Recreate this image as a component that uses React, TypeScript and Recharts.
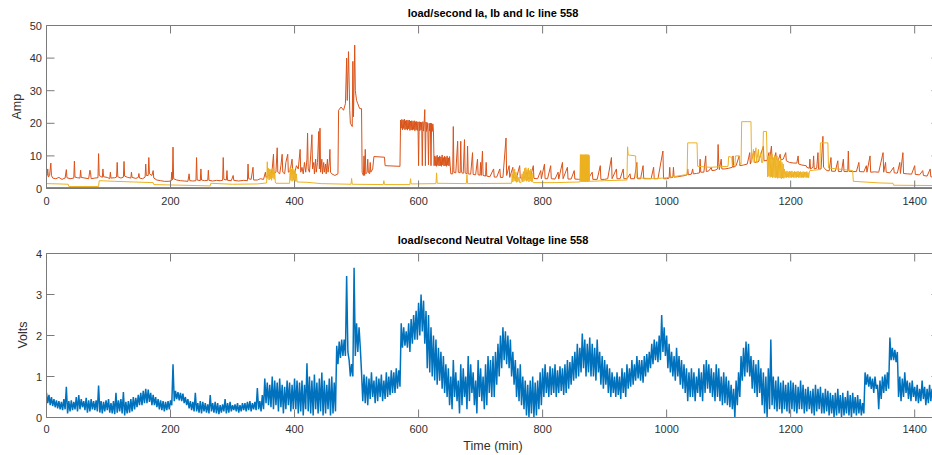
import { LineChart, Line, XAxis, YAxis } from 'recharts'

const X_TICKS = [0, 200, 400, 600, 800, 1000, 1200, 1400]
const AMP_TICKS = [0, 10, 20, 30, 40, 50]
const VOLT_TICKS = [0, 1, 2, 3, 4]

// phase currents, [minute, amp]
const IA: [number, number][] = [[0, 0.25], [360, 0.25], [720, 0.25], [1080, 0.25], [1440, 0.25]]

const IB: [number, number][] = [
  [0, 5], [1, 4], [2, 6], [3, 3.5], [5, 4], [7, 7.8], [8, 4], [10, 3.2], [15, 3], [20, 3.4], [25, 2.8], [30, 3.2], [32, 5.8], [33, 3.3],
  [38, 3], [44, 3.2], [45, 8.4], [46, 3.5], [50, 3.3], [54, 3.2], [55, 5.6], [56, 3.4], [62, 3.2], [68, 3], [70, 5.6], [71, 5], [72, 3],
  [78, 3.2], [83, 3.3], [84, 10.7], [85, 4], [90, 3.4], [91, 6], [92, 3.6], [98, 3.4], [102, 3], [103, 5], [104, 3.2], [110, 3.3],
  [113, 3.5], [114, 8], [115, 3.6], [120, 3.2], [124, 3.5], [125, 8.3], [126, 3.8], [131, 3.4], [136, 3.2], [137, 5], [138, 3.4],
  [144, 3.1], [148, 3.4], [149, 4.6], [150, 3.2], [155, 3], [159, 3.5], [160, 7.5], [161, 4], [164, 4], [165, 9.5], [166, 4.5], [170, 4],
  [172, 5.5], [173, 3.2], [178, 2.6], [184, 2.4], [190, 2.2], [196, 2.2], [201, 2.3], [202, 5], [203, 2.6], [204, 12.7], [205, 3],
  [210, 2.6], [216, 2.4], [222, 2.3], [228, 2.2], [230, 4.5], [231, 2.4], [236, 2.3], [241, 2.4], [242, 9.5], [243, 2.6], [248, 2.4],
  [249, 6], [250, 2.6], [255, 2.4], [260, 2.5], [261, 5.6], [262, 2.5], [268, 2.3], [274, 2.5], [280, 2.4], [284, 2.5], [285, 9.5],
  [286, 2.8], [290, 2.6], [291, 5.5], [292, 2.5], [298, 2.4], [301, 4], [302, 2.5], [310, 2.3], [318, 2.5], [324, 2.4], [325, 7.5],
  [326, 3], [330, 2.8], [333, 6.5], [334, 2.6], [340, 2.6], [345, 3], [350, 2.8], [353, 5], [354, 3.4], [358, 4], [361, 3.8], [364, 6],
  [366, 10.5], [367, 4.5], [370, 5], [372, 12.5], [373, 5], [376, 4.5], [378, 7], [380, 10.5], [381, 5], [384, 4.5], [386, 8],
  [389, 10.5], [390, 5], [393, 5.5], [396, 9], [397, 5], [400, 4.5], [403, 7], [406, 6], [409, 12], [410, 5], [412, 6.5], [414, 4.5],
  [416, 8], [418, 5], [420, 9], [421, 17], [422, 6], [424, 5], [426, 10], [428, 16.5], [429, 6], [431, 8], [432, 4.5], [434, 9],
  [435, 5], [437, 8], [439, 17.5], [440, 6], [441, 18.5], [442, 5], [444, 9], [445, 4.5], [447, 8], [448, 5], [450, 7.5], [451, 4.5],
  [453, 9], [454, 5], [456, 8], [457, 12], [458, 5], [460, 4.5], [465, 4], [470, 4.5], [471, 24], [475, 25], [479, 24], [482, 26],
  [484, 40], [485, 27], [487, 42], [489, 24], [490, 20], [493, 19], [494, 39], [495, 22], [497, 44], [498, 30], [500, 27], [502, 26],
  [505, 24.5], [508, 24.5], [509, 5], [511, 4], [512, 10], [513, 4], [514, 12], [515, 4.5], [517, 5], [518, 9], [519, 5], [521, 4.5],
  [522, 8], [523, 5], [526, 6], [528, 9.8], [545, 9.6], [546, 7], [570, 6.8],
  [571, 21], [572, 18.5], [573, 21.2], [574, 18], [575, 21], [576, 18.4], [577, 21.3], [578, 18], [579, 20.8], [580, 18.2], [581, 21],
  [582, 17.9], [583, 20.9], [584, 18.3], [585, 21], [586, 17.8], [587, 20.7], [588, 18], [589, 20.8], [590, 17.9], [591, 20.6],
  [592, 18.1], [593, 20.8], [594, 17.7], [595, 20.5], [596, 18], [597, 20.6], [598, 17.8], [599, 20.4], [600, 7], [601, 20.5],
  [602, 17.7], [603, 20.4], [604, 18], [605, 20.3], [606, 7], [607, 20.5], [608, 17.6], [609, 20.2], [610, 24.2], [611, 7], [612, 20.4],
  [613, 17.5], [614, 20.2], [615, 17.8], [616, 7.2], [617, 20], [618, 17.6], [619, 20.1], [620, 7], [621, 20], [622, 17.5], [623, 19.8],
  [624, 17.7], [625, 7],
  [626, 10], [627, 7], [628, 9.8], [629, 6.8], [630, 10.2], [631, 7.1], [632, 9.6], [633, 6.9], [634, 10], [635, 7], [636, 9.7],
  [637, 6.8], [638, 10.3], [639, 7.2], [640, 9.5], [641, 6.9], [642, 9.9], [643, 7], [644, 9.6], [645, 6.8], [646, 10], [647, 7.1],
  [648, 9.4], [649, 6.9], [650, 9.8], [651, 7], [652, 4.5], [655, 4.5], [656, 19], [657, 5], [660, 4.8], [663, 14.5], [664, 5],
  [667, 4.8], [668, 14.5], [669, 5], [672, 4.6], [674, 15], [675, 4.8], [678, 4.5], [679, 13], [680, 4.5], [684, 4.4], [687, 11],
  [688, 4.3], [692, 4.2], [695, 9], [696, 4.2], [699, 4.1], [700, 8], [701, 4], [703, 11.5], [704, 4], [708, 3.8], [709, 8], [710, 3.8],
  [715, 3.6], [721, 6], [722, 3.5], [726, 3.5], [731, 6], [732, 3.4], [736, 3.4], [741, 15.5], [742, 4], [746, 7], [747, 3.4],
  [752, 6.5], [753, 3.3], [758, 3.3], [763, 7], [764, 3.2], [770, 3.2], [775, 5], [776, 3.2], [780, 3.1], [785, 7], [786, 3.1], [792, 3],
  [797, 5.5], [798, 3], [803, 7.5], [804, 3], [808, 3], [813, 7], [814, 3], [820, 2.9], [825, 5], [826, 2.9], [832, 8], [833, 3],
  [840, 6.5], [841, 2.9], [846, 2.9], [851, 5.5], [852, 2.9], [858, 2.8], [866, 2.8], [872, 5], [873, 2.8], [880, 5], [881, 2.8],
  [888, 2.8], [893, 7], [894, 2.8], [900, 2.8], [905, 3], [911, 9.5], [912, 3], [919, 6], [920, 3], [925, 3], [930, 6], [931, 3],
  [936, 3], [941, 4.5], [942, 3], [948, 3], [952, 8], [953, 3], [958, 3], [962, 7], [963, 3], [968, 3], [975, 3], [979, 6.5], [980, 3],
  [986, 3], [994, 11.5], [995, 3], [1000, 3], [1004, 3.2], [1005, 6.5], [1006, 3.3], [1010, 3.4], [1011, 6.5], [1012, 3.5], [1018, 3.6],
  [1024, 3.8], [1030, 4], [1033, 4.2], [1034, 6], [1035, 4.2], [1040, 4.4], [1042, 6], [1043, 4.5], [1048, 4.6], [1053, 4.8], [1054, 9],
  [1055, 5], [1060, 5], [1063, 10], [1064, 5.2], [1068, 5.4], [1072, 6.5], [1073, 5.5], [1078, 5.6], [1082, 6], [1083, 13.5],
  [1084, 8], [1085, 5.8], [1088, 9], [1089, 6], [1094, 6], [1100, 6.2], [1106, 6.5], [1107, 10], [1108, 6.5], [1112, 7], [1117, 10],
  [1118, 7], [1124, 7.2], [1130, 7.5], [1134, 11], [1135, 7.5], [1141, 11.5], [1142, 8], [1148, 8.2], [1156, 13], [1157, 8.5],
  [1162, 8.6], [1165, 11], [1166, 8.8], [1169, 13], [1170, 9], [1174, 9.4], [1176, 11], [1177, 9], [1180, 8.6], [1183, 10.5],
  [1184, 8.8], [1188, 9], [1192, 11], [1193, 8.5], [1198, 8], [1205, 7.8], [1210, 7.8], [1212, 10], [1213, 7.5], [1218, 7.2], [1225, 7],
  [1226, 6.5], [1230, 6.2], [1231, 9], [1232, 6], [1236, 6.5], [1237, 10], [1238, 6], [1242, 6.2], [1244, 11], [1245, 6], [1249, 6],
  [1252, 16], [1253, 6.5], [1256, 6], [1258, 5.5], [1262, 5.4], [1265, 9.5], [1266, 5.3], [1272, 5.3], [1276, 8.5], [1277, 5.2],
  [1282, 5.2], [1285, 9], [1286, 5.2], [1292, 5.2], [1293, 11.5], [1294, 5.3], [1300, 5.2], [1306, 5.2], [1310, 8], [1311, 5.2],
  [1318, 5.1], [1322, 7], [1323, 5], [1328, 10], [1329, 5], [1335, 5.1], [1342, 5], [1349, 11], [1350, 5], [1353, 8], [1354, 5],
  [1360, 4.8], [1366, 6.5], [1367, 4.8], [1372, 4.7], [1376, 8], [1377, 4.6], [1381, 11], [1382, 4.6], [1388, 4.5], [1395, 4.4],
  [1400, 7], [1401, 4.3], [1408, 4.2], [1413, 5.5], [1414, 4], [1420, 3.8], [1425, 6], [1426, 3.6], [1432, 3.4], [1440, 3.2],
]

const IC: [number, number][] = [
  [0, 1.5], [20, 1.4], [35, 1.3], [36, 0.6], [84, 0.6], [85, 2.4], [110, 2.2], [140, 2], [172, 1.8], [173, 1.2], [220, 1], [264, 0.8],
  [265, 1.6], [300, 1.3], [340, 1.4], [355, 1.7],
  [356, 8.2], [357, 3], [358, 6.2], [359, 2.6], [360, 6], [361, 3], [362, 5.8], [363, 2.5], [364, 6.1], [365, 3.2], [366, 5.6],
  [367, 2.8], [368, 5.2], [369, 2], [370, 1.6], [392, 1.6],
  [393, 6.4], [394, 2.5], [395, 6], [396, 2.2], [397, 6.2], [398, 2.5], [399, 5.8], [400, 2], [401, 5.5], [402, 2.2], [403, 4.5],
  [404, 2], [420, 1.9], [443, 1.5], [491, 1.3], [492, 3.1], [493, 1.3], [543, 1.2], [544, 2.4], [545, 1.2], [586, 1.2], [587, 3],
  [588, 1.4], [628, 1.5], [629, 4.8], [630, 1.6], [677, 1.5], [678, 4.3], [679, 1.5], [750, 1.6],
  [751, 4.5], [752, 2], [753, 5.5], [754, 2.4], [755, 6], [756, 2.2], [757, 5], [758, 1.9], [759, 4], [760, 2], [762, 3.5], [763, 1.8],
  [765, 1.8], [767, 4.5], [768, 2], [769, 5.2], [770, 2.2], [771, 6.2], [772, 2.5], [773, 6.4], [774, 2.2], [775, 5.8], [776, 2.4],
  [777, 6.3], [778, 2], [779, 5.5], [780, 2.3], [781, 6], [782, 2.1], [783, 4.8], [784, 2], [785, 1.8], [820, 1.8], [860, 2],
  [861, 10.4], [861.5, 2.1], [862, 10.3], [862.5, 2.2], [863, 10.4], [863.5, 2], [864, 10.3], [864.5, 2.2], [865, 10.4], [865.5, 2.1],
  [866, 10.3], [866.5, 2], [867, 10.4], [867.5, 2.2], [868, 10.3], [868.5, 2.1], [869, 10.4], [869.5, 2], [870, 10.3], [870.5, 2.2],
  [871, 10.4], [871.5, 2.1], [872, 10.3], [872.5, 2], [873, 10.4], [873.5, 2.2], [874, 10.3], [874.5, 2.1], [875, 10.2], [875.5, 2.2],
  [900, 2.4], [936, 2.6], [937, 12.8], [938, 10.3], [950, 10], [951, 3.3], [980, 3], [1000, 3.3], [1030, 4.2], [1033, 4.2], [1034, 14],
  [1049, 14], [1050, 6.8], [1070, 6.5], [1099, 6.8], [1100, 9.8], [1105, 9.6], [1106, 7], [1110, 7], [1111, 10], [1117, 10],
  [1118, 7.5], [1120, 7.5], [1121, 20.5], [1136, 20.5], [1137, 8], [1140, 12], [1141, 8], [1144, 12.5], [1145, 8], [1148, 12],
  [1149, 8.5], [1152, 11], [1153, 8], [1155, 8], [1156, 17.5], [1161, 17.5], [1162, 10],
  [1163, 3.5], [1164, 10], [1165, 3.8], [1166, 11], [1167, 3.4], [1168, 9.8], [1169, 3.6], [1170, 10.5], [1171, 3.3], [1172, 9.5],
  [1173, 3.5], [1174, 10.2], [1175, 3.2], [1176, 9.6], [1177, 3.4], [1178, 10], [1179, 3.1], [1180, 9], [1181, 3.3], [1182, 8.5],
  [1183, 3.2], [1184, 9.2], [1185, 3], [1186, 8], [1187, 3.2], [1188, 7.5], [1189, 3.1], [1190, 6],
  [1191, 3.4], [1192, 5.2], [1193, 3.3], [1194, 5.4], [1195, 3.5], [1196, 5.1], [1197, 3.3], [1198, 5.3], [1199, 3.4], [1200, 5.2],
  [1201, 3.3], [1202, 5.4], [1203, 3.5], [1204, 5], [1205, 3.3], [1206, 5.3], [1207, 3.4], [1208, 5.1], [1209, 3.3], [1210, 5.2],
  [1211, 3.5], [1212, 5.3], [1213, 3.3], [1214, 5.1], [1215, 3.4], [1216, 5.2], [1217, 3.3], [1218, 5], [1219, 3.4], [1220, 5.2],
  [1221, 3.3], [1222, 5.1], [1223, 3.5], [1224, 5], [1225, 3.3], [1226, 5.2], [1227, 3.4], [1228, 4.9], [1229, 3.3], [1230, 4.8],
  [1231, 5.5], [1247, 5.8], [1248, 14], [1260, 14], [1261, 6.3], [1300, 5.5], [1301, 2.2], [1344, 1.7], [1365, 1.6], [1366, 1],
  [1440, 0.9],
]

// neutral voltage, high and low reading in each 4-minute window (one row = 80 minutes)
const VN_STEP = 4
const VN_HI = [
  0.6, 0.55, 0.5, 0.45, 0.42, 0.4, 0.38, 0.45, 0.75, 0.4, 0.42, 0.38, 0.5, 0.55, 0.45, 0.4, 0.48, 0.42, 0.45, 0.4,
  0.42, 0.78, 0.4, 0.38, 0.42, 0.45, 0.35, 0.4, 0.6, 0.42, 0.45, 0.62, 0.38, 0.4, 0.45, 0.5, 0.48, 0.55, 0.6, 0.65,
  0.7, 0.68, 0.6, 0.55, 0.5, 0.45, 0.42, 0.4, 0.38, 0.4, 0.42, 1.3, 0.65, 0.62, 0.6, 0.58, 0.5, 0.45, 0.4, 0.38,
  0.6, 0.35, 0.4, 0.38, 0.35, 0.32, 0.55, 0.35, 0.38, 0.35, 0.3, 0.32, 0.45, 0.35, 0.38, 0.3, 0.32, 0.35, 0.3, 0.35,
  0.35, 0.38, 0.4, 0.35, 0.38, 0.72, 0.4, 0.55, 0.95, 0.85, 0.8, 1.0, 0.9, 0.85, 0.95, 0.8, 0.75, 0.9, 0.85, 0.8,
  0.95, 0.9, 0.85, 0.9, 0.8, 1.32, 1.0, 0.9, 1.05, 0.85, 0.95, 1.1, 0.9, 0.8, 0.95, 1.0, 0.85, 1.75, 1.85, 1.9,
  1.9, 3.45, 1.4, 1.3, 3.65, 2.3, 2.2, 1.1, 1.05, 1.0, 0.95, 1.1, 0.9, 1.0, 0.95, 1.05, 0.9, 1.1, 1.0, 1.15,
  1.1, 1.2, 1.15, 2.3, 2.2, 2.1, 2.3, 2.4, 2.5, 2.6, 2.8, 3.0, 2.85, 2.6, 2.5, 2.2, 2.0, 1.9, 1.7, 1.6,
  1.5, 1.3, 1.2, 1.0, 1.4, 1.1, 0.9, 1.3, 1.2, 1.0, 1.5, 1.3, 1.1, 0.9, 1.4, 1.2, 1.0, 1.3, 1.5, 1.4,
  1.5, 1.6, 1.8, 2.0, 2.2, 2.1, 2.0, 1.9, 1.6, 1.4, 1.2, 1.3, 1.0, 0.9, 0.8, 0.9, 1.0, 0.85, 0.9, 1.1,
  1.2, 1.3, 1.1, 1.25, 1.2, 1.3, 1.15, 1.25, 1.2, 1.3, 1.4, 1.35, 1.5, 1.6, 1.8, 1.7, 2.05, 1.9, 1.8, 1.95,
  1.8, 1.7, 1.9, 1.6, 1.5, 1.4, 1.3, 1.2, 1.1, 1.0, 1.1, 1.0, 1.2, 1.1, 1.3, 1.2, 1.4, 1.3, 1.5, 1.4,
  1.4, 1.5, 1.55, 1.6, 1.8, 1.9, 1.85, 2.0, 2.5, 2.2, 2.0, 1.8, 1.6, 1.5, 1.7, 1.5, 1.4, 1.3, 1.2, 1.1,
  1.2, 1.1, 1.0, 1.2, 1.1, 1.3, 1.4, 1.3, 1.2, 1.1, 1.3, 1.2, 1.0, 1.1, 1.0, 0.9, 0.8, 0.7, 0.9, 1.1,
  1.5, 1.7, 1.85, 1.8, 1.5, 1.4, 1.3, 1.4, 1.2, 1.1, 1.0, 1.2, 1.9, 1.0, 0.9, 1.0, 0.85, 0.9, 0.8, 0.85,
  0.9, 0.85, 0.8, 0.75, 0.9, 0.8, 0.7, 0.75, 0.65, 0.7, 0.8, 0.7, 0.75, 0.6, 0.7, 0.65, 0.6, 0.55, 0.6, 0.7,
  0.55, 0.6, 0.5, 0.65, 0.55, 0.6, 0.5, 0.55, 0.45, 0.35, 1.1, 1.05, 1.0, 0.95, 1.0, 0.8, 0.9, 1.0, 1.05, 1.1,
  1.95, 1.7, 1.65, 1.6, 1.0, 0.95, 1.1, 0.9, 0.85, 0.9, 0.75, 0.8, 0.7, 0.9, 0.75, 0.7, 0.8, 0.7, 0.6, 0.7,
  0.6,
]
const VN_LO = [
  0.35, 0.3, 0.28, 0.25, 0.22, 0.2, 0.18, 0.2, 0.1, 0.15, 0.18, 0.2, 0.15, 0.2, 0.25, 0.18, 0.12, 0.15, 0.2, 0.18,
  0.15, 0.12, 0.1, 0.15, 0.18, 0.12, 0.1, 0.08, 0.12, 0.15, 0.1, 0.05, 0.1, 0.12, 0.15, 0.2, 0.25, 0.3, 0.3, 0.35,
  0.35, 0.38, 0.3, 0.3, 0.25, 0.2, 0.18, 0.15, 0.18, 0.2, 0.3, 0.4, 0.45, 0.42, 0.4, 0.35, 0.3, 0.22, 0.18, 0.15,
  0.15, 0.12, 0.1, 0.15, 0.12, 0.1, 0.15, 0.12, 0.1, 0.08, 0.12, 0.15, 0.1, 0.12, 0.15, 0.18, 0.15, 0.12, 0.15, 0.18,
  0.15, 0.18, 0.15, 0.2, 0.18, 0.2, 0.15, 0.2, 0.35, 0.3, 0.25, 0.2, 0.3, 0.15, 0.25, 0.1, 0.2, 0.3, 0.15, 0.2,
  0.2, 0.1, 0.15, 0.05, 0.2, 0.15, 0.1, 0.05, 0.2, 0.1, 0.15, 0.05, 0.1, 0.2, 0.05, 0.1, 0.15, 1.3, 1.45, 1.5,
  1.5, 1.6, 1.0, 1.0, 1.5, 1.6, 1.7, 0.4, 0.35, 0.3, 0.45, 0.5, 0.35, 0.4, 0.5, 0.4, 0.45, 0.5, 0.55, 0.6,
  0.6, 0.7, 0.75, 1.7, 1.75, 1.7, 1.6, 1.8, 1.9, 1.9, 2.0, 2.1, 1.8, 1.2, 1.1, 1.0, 0.9, 0.8, 0.9, 0.7,
  0.6, 0.5, 0.3, 0.2, 0.5, 0.4, 0.1, 0.3, 0.5, 0.2, 0.4, 0.6, 0.3, 0.1, 0.5, 0.4, 0.2, 0.3, 0.6, 0.5,
  0.5, 0.8, 1.0, 1.2, 1.4, 1.3, 1.2, 1.0, 0.8, 0.5, 0.4, 0.3, 0.2, 0.05, 0.0, 0.1, 0.0, 0.05, 0.2, 0.3,
  0.5, 0.6, 0.5, 0.55, 0.6, 0.5, 0.6, 0.65, 0.55, 0.6, 0.7, 0.8, 0.9, 0.95, 1.0, 1.1, 1.2, 1.0, 1.1, 1.0,
  1.0, 0.9, 1.1, 0.8, 0.7, 0.8, 0.6, 0.5, 0.6, 0.5, 0.55, 0.45, 0.6, 0.5, 0.7, 0.75, 0.8, 0.9, 0.95, 0.9,
  0.85, 1.0, 1.1, 1.2, 1.3, 1.4, 1.35, 1.4, 1.6, 1.5, 1.2, 1.1, 1.0, 0.9, 1.0, 0.8, 0.7, 0.6, 0.4, 0.5,
  0.5, 0.4, 0.6, 0.5, 0.4, 0.6, 0.7, 0.6, 0.5, 0.4, 0.5, 0.4, 0.3, 0.35, 0.3, 0.25, 0.2, 0.0, 0.3, 0.5,
  0.9, 1.0, 1.1, 1.0, 0.7, 0.6, 0.5, 0.6, 0.3, 0.1, 0.0, 0.2, 0.3, 0.2, 0.15, 0.2, 0.1, 0.2, 0.15, 0.1,
  0.2, 0.15, 0.1, 0.2, 0.2, 0.1, 0.15, 0.2, 0.1, 0.05, 0.15, 0.2, 0.1, 0.1, 0.15, 0.05, 0.1, 0.0, 0.05, 0.1,
  0.0, 0.05, 0.1, 0.05, 0.0, 0.1, 0.05, 0.1, 0.05, 0.1, 0.8, 0.75, 0.7, 0.6, 0.7, 0.2, 0.45, 0.6, 0.65, 0.7,
  1.4, 1.4, 1.35, 0.5, 0.4, 0.5, 0.6, 0.45, 0.4, 0.5, 0.4, 0.35, 0.4, 0.45, 0.3, 0.35, 0.4, 0.35, 0.3, 0.35,
  0.4,
]

const AXIS = '#7a7a7a'
const TEXT = '#303030'
const FONT = '"Liberation Sans", Arial, Helvetica, sans-serif'
const W = 960

const pts = (s: [number, number][]) => s.map(([t, v]) => ({ t, v }))
const vnData = VN_HI.flatMap((hi, i) => [
  { t: i * VN_STEP, v: hi },
  { t: i * VN_STEP + VN_STEP / 2, v: VN_LO[i] },
]).filter((p) => p.t <= 1440)

function BottomTick({ x, y, payload, dy }: any) {
  return (
    <g>
      <line x1={x} y1={y} x2={x} y2={y - 8} stroke={AXIS} />
      <text x={x} y={y + dy} textAnchor="middle" fill={TEXT} fontSize={11} fontFamily={FONT}>{payload.value}</text>
    </g>
  )
}

function TopTick({ x, y }: any) {
  return <line x1={x} y1={y} x2={x} y2={y + 8} stroke={AXIS} />
}

function LeftTick({ x, y, payload }: any) {
  return (
    <g>
      <line x1={x} y1={y} x2={x + 8} y2={y} stroke={AXIS} />
      <text x={x - 4.5} y={y + 4} textAnchor="end" fill={TEXT} fontSize={11} fontFamily={FONT}>{payload.value}</text>
    </g>
  )
}

function RightTick({ x, y }: any) {
  return <line x1={x} y1={y} x2={x - 8} y2={y} stroke={AXIS} />
}

const axisLine = { stroke: AXIS, strokeWidth: 1 }

function xAxes(dy: number) {
  return [
    <XAxis key="b" xAxisId="b" type="number" dataKey="t" domain={[0, 1440]} ticks={X_TICKS} interval={0}
      allowDataOverflow height={1} tickSize={0} tickMargin={0} axisLine={axisLine} tick={<BottomTick dy={dy} />} />,
    <XAxis key="t" xAxisId="t" orientation="top" type="number" dataKey="t" domain={[0, 1440]} ticks={X_TICKS} interval={0}
      allowDataOverflow height={1} tickSize={0} tickMargin={0} axisLine={axisLine} tick={<TopTick />} />,
  ]
}

function yAxes(ticks: number[], max: number) {
  return [
    <YAxis key="l" yAxisId="l" type="number" domain={[0, max]} ticks={ticks} interval={0} allowDataOverflow
      width={1} tickSize={0} tickMargin={0} axisLine={axisLine} tick={<LeftTick />} />,
    <YAxis key="r" yAxisId="r" orientation="right" type="number" domain={[0, max]} ticks={ticks} interval={0}
      allowDataOverflow width={1} tickSize={0} tickMargin={0} axisLine={axisLine} tick={<RightTick />} />,
  ]
}

export default function App() {
  return (
    <div style={{ position: 'absolute', left: 0, top: 0, width: 932, height: 455, overflow: 'hidden', background: '#fff', fontFamily: FONT }}>
      <div style={{ position: 'absolute', left: 0, top: 0 }}>
        <LineChart width={W} height={215} margin={{ top: 24.5, right: W - 940.5, bottom: 215 - 189.5, left: 45.5 }}>
          {xAxes(16.5)}
          {yAxes(AMP_TICKS, 50)}
          <Line data={pts(IA)} xAxisId="b" yAxisId="l" dataKey="v" type="linear" dot={false} activeDot={false}
            stroke="#4a98d4" strokeWidth={1.2} isAnimationActive={false} />
          <Line data={pts(IB)} xAxisId="b" yAxisId="l" dataKey="v" type="linear" dot={false} activeDot={false}
            stroke="#D95319" strokeWidth={1} isAnimationActive={false} />
          <Line data={pts(IC)} xAxisId="b" yAxisId="l" dataKey="v" type="linear" dot={false} activeDot={false}
            stroke="#EDB120" strokeWidth={1} isAnimationActive={false} />
        </LineChart>
      </div>
      <div style={{ position: 'absolute', left: 0, top: 225 }}>
        <LineChart width={W} height={230} margin={{ top: 27.5, right: W - 940.5, bottom: 230 - 193.5, left: 45.5 }}>
          {xAxes(15)}
          {yAxes(VOLT_TICKS, 4)}
          <Line data={vnData} xAxisId="b" yAxisId="l" dataKey="v" type="linear" dot={false} activeDot={false}
            stroke="#0072BD" strokeWidth={1.5} isAnimationActive={false} />
        </LineChart>
      </div>
      <svg width={932} height={455} style={{ position: 'absolute', left: 0, top: 0, pointerEvents: 'none' }}>
        <text x={493} y={16.5} textAnchor="middle" fontSize={11} fontWeight="bold" fill="#000" fontFamily={FONT}>
          load/second Ia, Ib and Ic line 558
        </text>
        <text x={493} y={243.5} textAnchor="middle" fontSize={11} fontWeight="bold" fill="#000" fontFamily={FONT}>
          load/second Neutral Voltage line 558
        </text>
        <text x={493} y={449.5} textAnchor="middle" fontSize={12.5} fill={TEXT} fontFamily={FONT}>Time (min)</text>
        <text transform="translate(20.7,106.7) rotate(-90)" textAnchor="middle" fontSize={12.5} fill={TEXT} fontFamily={FONT}>Amp</text>
        <text transform="translate(27.3,335) rotate(-90)" textAnchor="middle" fontSize={12.5} fill={TEXT} fontFamily={FONT}>Volts</text>
      </svg>
    </div>
  )
}
